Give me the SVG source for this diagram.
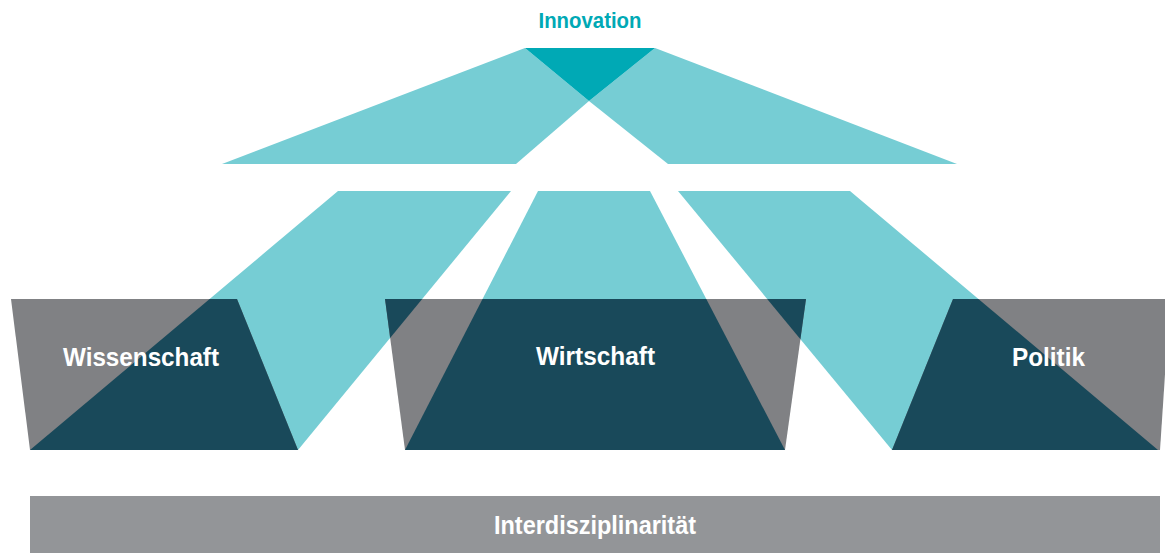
<svg xmlns="http://www.w3.org/2000/svg" xmlns:xlink="http://www.w3.org/1999/xlink" width="1165" height="553" viewBox="0 0 1165 553">
  <style>
    .band { fill: #76cdd4; }
    .peak { fill: #00a9b5; }
    .box { fill: #808184; }
    .over { fill: #19495a; }
    .bar { fill: #939598; }
    .lbl { font-family: "Liberation Sans", Arial, sans-serif; font-weight: bold; fill: #ffffff; text-anchor: middle; }
    .title { font-family: "Liberation Sans", Arial, sans-serif; font-weight: bold; fill: #00a9b5; text-anchor: middle; }
  </style>
  <defs>
    <polygon id="bandL" points="338,191 511,191 298,450 30,450"/>
    <polygon id="bandM" points="538,191 650,191 785,450 405,450"/>
    <polygon id="bandR" points="678,191 850,191 1158,450 892,450"/>
    <clipPath id="clipL"><use xlink:href="#bandL"/></clipPath>
    <clipPath id="clipM"><use xlink:href="#bandM"/></clipPath>
    <clipPath id="clipR"><use xlink:href="#bandR"/></clipPath>
  </defs>
  <rect width="1165" height="553" fill="#ffffff"/>

  <g id="innovation">
    <polygon class="band" points="222,164 525,48 589,101 516,164"/>
    <polygon class="band" points="655,48 957,164 668,164 589,101"/>
    <polygon class="peak" points="525,48 655,48 589,101"/>
    <text class="title" x="590" y="28" font-size="22.5" textLength="103" lengthAdjust="spacingAndGlyphs">Innovation</text>
  </g>

  <g id="connectors">
    <use xlink:href="#bandL" class="band"/>
    <use xlink:href="#bandM" class="band"/>
    <use xlink:href="#bandR" class="band"/>
  </g>

  <g id="wissenschaft">
    <polygon class="box" points="11,299 237,299 298,450 30,450"/>
    <polygon class="over" points="11,299 237,299 298,450 30,450" clip-path="url(#clipL)"/>
    <text class="lbl" x="141" y="366" font-size="25.5" textLength="156" lengthAdjust="spacingAndGlyphs">Wissenschaft</text>
  </g>

  <g id="wirtschaft">
    <polygon class="box" points="385,299 806,299 785,450 405,450"/>
    <polygon class="over" points="385,299 806,299 785,450 405,450" clip-path="url(#clipL)"/>
    <polygon class="over" points="385,299 806,299 785,450 405,450" clip-path="url(#clipM)"/>
    <polygon class="over" points="385,299 806,299 785,450 405,450" clip-path="url(#clipR)"/>
    <text class="lbl" x="595.5" y="365" font-size="25.5" textLength="119" lengthAdjust="spacingAndGlyphs">Wirtschaft</text>
  </g>

  <g id="politik">
    <polygon class="box" points="953,299 1170,299 1160,450 892,450"/>
    <polygon class="over" points="953,299 1170,299 1160,450 892,450" clip-path="url(#clipR)"/>
    <text class="lbl" x="1048.5" y="366" font-size="25.5" textLength="73" lengthAdjust="spacingAndGlyphs">Politik</text>
  </g>

  <g id="interdisziplinaritaet">
    <rect class="bar" x="30" y="496" width="1130" height="57"/>
    <text class="lbl" x="595" y="534" font-size="25.5" textLength="202" lengthAdjust="spacingAndGlyphs">Interdisziplinarität</text>
  </g>
</svg>
